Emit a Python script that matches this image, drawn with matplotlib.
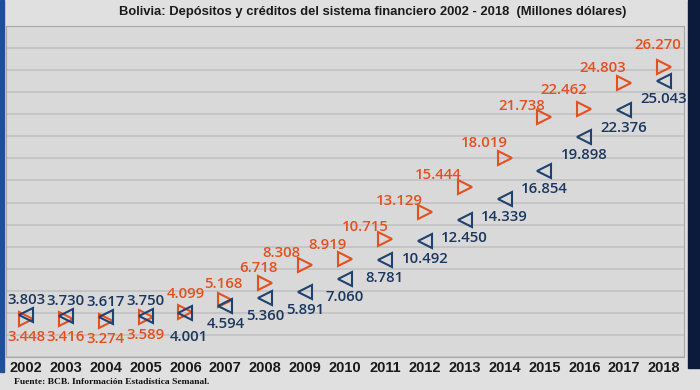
import matplotlib.pyplot as plt
import matplotlib.patches as mpatches

years = list(range(2002, 2019))
depositos = [3803, 3730, 3617, 3750, 4001, 4594, 5360, 5891, 7060, 8781,
             10492, 12450, 14339, 16854, 19898, 22376, 25043]
creditos = [3448, 3416, 3274, 3589, 4099, 5168, 6718, 8308, 8919, 10715,
            13129, 15444, 18019, 21738, 22462, 24803, 26270]
dep_labels = ['3.803', '3.730', '3.617', '3.750', '4.001', '4.594', '5.360', '5.891', '7.060',
              '8.781', '10.492', '12.450', '14.339', '16.854', '19.898', '22.376', '25.043']
cre_labels = ['3.448', '3.416', '3.274', '3.589', '4.099', '5.168', '6.718', '8.308', '8.919',
              '10.715', '13.129', '15.444', '18.019', '21.738', '22.462', '24.803', '26.270']

# label offsets in pixels (dx, dy), dy positive = up
dep_off = [(0, 15)] * 4 + [(3, -24)] + [(0, -18)] * 12
cre_off = [(0, -18)] * 4 + [(0, 18), (-2, 16), (-7, 15), (-24, 12), (-18, 14), (-20, 12),
                            (-25, 11), (-26, 12), (-20, 15), (-23, 11), (-21, 19), (-21, 15), (-6, 22)]

orange = '#e4501e'
blue = '#1f4170'
blue_txt = '#1b365f'
lbl_font = ['Open Sans', 'DejaVu Sans']

fig = plt.figure(figsize=(7, 3.9), dpi=100, facecolor='#e0e0e0')
ax = fig.add_axes([6/700, 33/390, 678/700, 331/390], facecolor='#d9d9d9')

ax.plot(years, creditos, linestyle='none', marker='>', markersize=10.5,
        markerfacecolor='none', markeredgecolor=orange, markeredgewidth=1.5)
ax.plot(years, depositos, linestyle='none', marker='<', markersize=10.5,
        markerfacecolor='none', markeredgecolor=blue, markeredgewidth=1.5)

for i, yr in enumerate(years):
    ax.annotate(dep_labels[i], (yr, depositos[i]), xytext=dep_off[i], textcoords='offset pixels',
                ha='center', va='center', color=blue_txt, fontsize=10.8,
                fontweight='semibold', family=lbl_font)
    ax.annotate(cre_labels[i], (yr, creditos[i]), xytext=cre_off[i], textcoords='offset pixels',
                ha='center', va='center', color=orange, fontsize=10.8,
                fontweight='semibold', family=lbl_font)

ax.set_xlim(2001.5, 2018.5)
ax.set_ylim(0, 30000)
ax.set_yticks(range(0, 30001, 2000))
ax.set_yticklabels([])
ax.set_xticks(years)
ax.set_xticklabels([str(y) for y in years], fontsize=10.5, fontweight='bold',
                   family='Liberation Sans', color='#1a1a1a')
ax.tick_params(length=0, pad=3)
ax.grid(axis='y', color='#c2c2c2', linewidth=1.2)
ax.set_axisbelow(True)
for s in ax.spines.values():
    s.set_color('#a8a8a8')

fig.text(373/700, 1 - 12/390, 'Bolivia: Depósitos y créditos del sistema financiero 2002 - 2018  (Millones dólares)',
         ha='center', va='center', fontsize=9.4, fontweight='bold',
         family='Liberation Sans', color='#1a1a1a')
fig.text(14/700, 1 - 382/390, 'Fuente: BCB. Información Estadística Semanal.',
         ha='left', va='center', fontsize=6.8, fontweight='bold',
         family='Liberation Serif', color='#111111')

# dark blue frame strips at the sides
fig.patches.append(mpatches.Rectangle((0, 1 - 372/390), 4/700, 372/390, transform=fig.transFigure,
                                      color='#1f4f96', zorder=0))
fig.patches.append(mpatches.Rectangle((688/700, 1 - 368/390), 12/700, 368/390, transform=fig.transFigure,
                                      color='#0c1a3c', zorder=0))

fig.savefig('out.png', dpi=100, facecolor=fig.get_facecolor())
